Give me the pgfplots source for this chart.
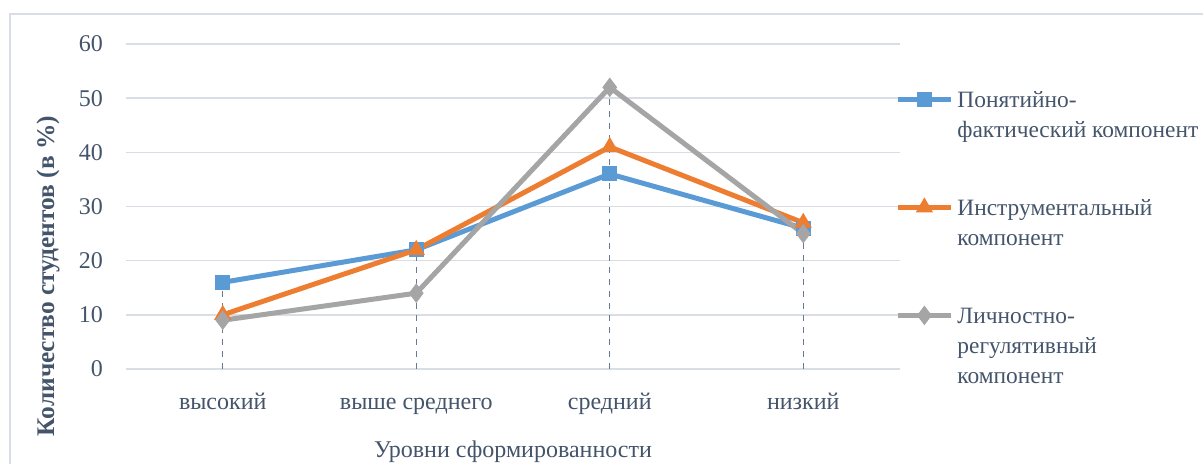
\documentclass[border=0pt]{standalone}
\usepackage{fontspec}
\setmainfont{Liberation Serif}
\usepackage{pgfplots}
\pgfplotsset{compat=1.18}
\definecolor{cblue}{HTML}{5B9BD5}
\definecolor{corange}{HTML}{ED7D31}
\definecolor{cgray}{HTML}{A5A5A5}
\definecolor{textc}{HTML}{44546A}
\definecolor{gridc}{HTML}{D9DEE6}
\definecolor{dropc}{HTML}{6A7A94}
\begin{document}
\begin{tikzpicture}
\useasboundingbox (-63pt,-47.5pt) rectangle (538.5pt,184.5pt);
\draw[color=gridc, line width=1pt] (-58pt,-80pt) rectangle (560pt,177.5pt);
\begin{axis}[
  at={(0,0)}, anchor=south west,
  scale only axis, width=387pt, height=162.5pt,
  xmin=-0.5, xmax=3.5, ymin=0, ymax=60,
  ytick={0,10,...,60},
  xtick={0,1,2,3},
  xticklabels={высокий, выше среднего, средний, низкий},
  axis line style={draw=none},
  major tick length=0pt,
  ymajorgrids, grid style={gridc, line width=0.8pt},
  /pgf/number format/assume math mode=true,
  tick label style={font=\fontsize{12}{14}\selectfont, text=textc},
  yticklabel style={anchor=east, xshift=-8pt},
  xticklabel style={anchor=base, yshift=-20.5pt},
  xlabel={Уровни сформированности},
  xlabel style={at={(axis description cs:0.5,0)}, anchor=base, yshift=-44.5pt, font=\fontsize{12}{14}\selectfont, text=textc},
  ylabel={Количество студентов (в \%)},
  ylabel style={at={(axis description cs:-0.1008,0.286)}, anchor=center, font=\fontsize{12.7}{14}\selectfont\bfseries, text=textc},
  legend style={draw=none, fill=none, at={(axis description cs:1,1)}, anchor=north west, yshift=-19pt, xshift=-2.5pt,
    cells={anchor=base west, font=\fontsize{11.7}{15}\selectfont, text=textc},
    row sep=38pt, inner sep=0pt},
  legend image code/.code={\draw[mark repeat=2,mark phase=2,yshift=4pt,#1] plot coordinates {(0pt,0pt)(13.25pt,0pt)(26.5pt,0pt)};},
]
\addplot[ycomb, dashed, color=dropc, line width=0.5pt, forget plot] coordinates {(0,16)(1,22)(2,52)(3,27)};
\addplot[cblue, line width=2.5pt, mark=square*, mark size=3.5pt, mark options={line width=0.5pt}] coordinates {(0,16)(1,22)(2,36)(3,26)};
\addlegendentry{\begin{tabular}[t]{@{}l@{}}Понятийно-\\фактический компонент\end{tabular}}
\addplot[corange, line width=2.5pt, mark=triangle*, mark size=4.5pt, mark options={line width=0.5pt}] coordinates {(0,10)(1,22)(2,41)(3,27)};
\addlegendentry{\begin{tabular}[t]{@{}l@{}}Инструментальный\\компонент\end{tabular}}
\addplot[cgray, line width=2.5pt, mark=diamond*, mark size=4.5pt, mark options={line width=0.5pt}] coordinates {(0,9)(1,14)(2,52)(3,25)};
\addlegendentry{\begin{tabular}[t]{@{}l@{}}Личностно-\\регулятивный\\компонент\end{tabular}}
\end{axis}
\end{tikzpicture}
\end{document}
